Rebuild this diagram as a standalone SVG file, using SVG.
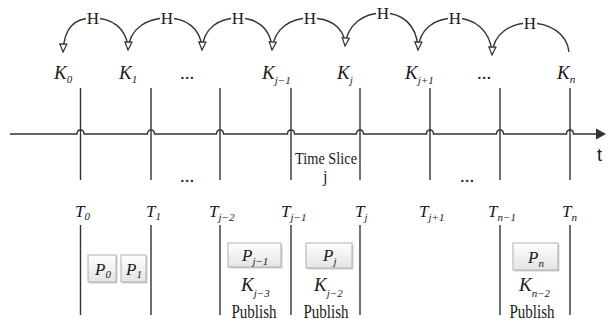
<svg xmlns="http://www.w3.org/2000/svg" width="608" height="324" viewBox="0 0 608 324">
<defs>
<marker id="oa" markerUnits="userSpaceOnUse" markerWidth="10" markerHeight="10" viewBox="0 0 10 10" refX="9" refY="5" orient="auto">
<path d="M1,1.5 L9,5 L1,8.5 Z" fill="#fff" stroke="#333" stroke-width="1.2"/>
</marker>
<linearGradient id="bg" x1="0" y1="0" x2="0" y2="1">
<stop offset="0" stop-color="#ffffff"/>
<stop offset="1" stop-color="#e4e4e4"/>
</linearGradient>
<style>
.ln{stroke:#333;stroke-width:1.4;fill:none}
.arc{stroke:#333;stroke-width:1.4;fill:none;marker-end:url(#oa)}
.it{font-family:"Liberation Serif","Times New Roman",serif;font-style:italic;fill:#1a1a1a}
.rm{font-family:"Liberation Serif","Times New Roman",serif;fill:#1a1a1a}
.k{font-size:19px}
.t{font-size:17px}
.p{font-size:17px}
.s{font-size:11px;font-style:italic}
.h{font-size:17px;text-anchor:middle}
.pub{font-size:18px;text-anchor:middle}
.box{fill:url(#bg);stroke:#b0b0b0;stroke-width:1}
.sh{fill:#d0d0d0}
</style>
</defs>
<rect width="608" height="324" fill="#fff"/>

<g id="connectors">
<path class="arc" d="M128,47 C126,28 112,18 93,18 C74,18 64,28 63,52"/>
<path class="arc" d="M202,47 C200,28 186,18 167,18 C148,18 129,28 128,50"/>
<path class="arc" d="M272,47 C270,28 257,18 238,18 C219,18 203,28 202,50"/>
<path class="arc" d="M345,43 C343,26 329,18 310,18 C291,18 274,28 272,50"/>
<path class="arc" d="M418,47 C416,24 402,13 383,13 C364,13 347,24 345,46"/>
<path class="arc" d="M492,52 C490,30 474,18 455,18 C436,18 419,28 418,50"/>
<path class="arc" d="M569,52 C567,33 549,23 530,23 C511,23 493,33 492,55"/>
<path class="ln" d="M10,134 H77 Q77,130 80.5,130 Q84,130 84,134 H147.5 Q147.5,130 151,130 Q154.5,130 154.5,134 H216.5 Q216.5,130 220,130 Q223.5,130 223.5,134 H287.5 Q287.5,130 291,130 Q294.5,130 294.5,134 H356.5 Q356.5,130 360,130 Q363.5,130 363.5,134 H426.5 Q426.5,130 430,130 Q433.5,130 433.5,134 H496.5 Q496.5,130 500,130 Q503.5,130 503.5,134 H566.5 Q566.5,130 570,130 Q573.5,130 573.5,134 H597"/>
<polygon points="596,128.5 606,134 596,139.5" fill="#333"/>
<path class="ln" d="M80.5,88 V180 M151,88 V180 M220,88 V180 M291,88 V180 M360,88 V180 M430,88 V180 M500,88 V180 M570,88 V180"/>
<path class="ln" d="M80.5,225 V315 M151,225 V315 M220,225 V315 M291,225 V315 M360,225 V315 M500,225 V315 M570,225 V315"/>
</g>

<g id="hash-labels">
<rect x="86" y="10" width="14" height="15" fill="#fff"/>
<rect x="160" y="10" width="14" height="15" fill="#fff"/>
<rect x="231" y="10" width="14" height="15" fill="#fff"/>
<rect x="303" y="10" width="14" height="15" fill="#fff"/>
<rect x="376" y="5" width="14" height="15" fill="#fff"/>
<rect x="448" y="10" width="14" height="15" fill="#fff"/>
<rect x="523" y="15" width="14" height="15" fill="#fff"/>
<text class="rm h" x="93" y="24">H</text>
<text class="rm h" x="167" y="24">H</text>
<text class="rm h" x="238" y="24">H</text>
<text class="rm h" x="310" y="24">H</text>
<text class="rm h" x="383" y="19">H</text>
<text class="rm h" x="455" y="24">H</text>
<text class="rm h" x="530" y="29">H</text>
</g>

<g id="keys">
<text class="it k" x="54" y="79">K<tspan class="s" dy="4">0</tspan></text>
<text class="it k" x="119" y="79">K<tspan class="s" dy="4">1</tspan></text>
<text class="rm k" x="180" y="79">...</text>
<text class="it k" x="262" y="79">K<tspan class="s" dy="5">j−1</tspan></text>
<text class="it k" x="337" y="79">K<tspan class="s" dy="5">j</tspan></text>
<text class="it k" x="405" y="79">K<tspan class="s" dy="5">j+1</tspan></text>
<text class="rm k" x="477" y="79">...</text>
<text class="it k" x="557" y="79">K<tspan class="s" dy="4">n</tspan></text>
</g>

<g id="axis-labels">
<text x="597" y="161" font-family="Liberation Sans,sans-serif" font-size="18" fill="#1a1a1a">t</text>
<text class="rm" x="295" y="164" font-size="16" textLength="62" lengthAdjust="spacingAndGlyphs">Time Slice</text>
<text class="rm" x="323" y="182" font-size="16">j</text>
<text class="rm k" x="180" y="182">...</text>
<text class="rm k" x="460" y="182">...</text>
</g>

<g id="time-labels">
<text class="it t" x="75" y="217">T<tspan class="s" dy="3">0</tspan></text>
<text class="it t" x="146" y="217">T<tspan class="s" dy="3">1</tspan></text>
<text class="it t" x="209" y="217">T<tspan class="s" dy="4">j−2</tspan></text>
<text class="it t" x="281" y="217">T<tspan class="s" dy="4">j−1</tspan></text>
<text class="it t" x="355" y="217">T<tspan class="s" dy="4">j</tspan></text>
<text class="it t" x="419" y="217">T<tspan class="s" dy="4">j+1</tspan></text>
<text class="it t" x="488" y="217">T<tspan class="s" dy="4">n−1</tspan></text>
<text class="it t" x="562" y="217">T<tspan class="s" dy="4">n</tspan></text>
</g>

<g id="packet-p0">
<rect class="sh" x="89.5" y="256.5" width="28" height="27"/>
<rect class="box" x="88" y="255" width="28" height="27"/>
<text class="it p" x="95" y="275">P<tspan class="s" dy="3">0</tspan></text>
</g>
<g id="packet-p1">
<rect class="sh" x="122.5" y="256.5" width="25" height="27"/>
<rect class="box" x="121" y="255" width="25" height="27"/>
<text class="it p" x="126" y="275">P<tspan class="s" dy="3">1</tspan></text>
</g>
<g id="packet-pj-1">
<rect class="sh" x="229.5" y="244.5" width="53" height="24"/>
<rect class="box" x="228" y="243" width="53" height="24"/>
<text class="it p" x="242" y="261">P<tspan class="s" dy="4">j−1</tspan></text>
</g>
<g id="packet-pj">
<rect class="sh" x="307.5" y="244.5" width="46" height="25"/>
<rect class="box" x="306" y="243" width="46" height="25"/>
<text class="it p" x="323" y="261">P<tspan class="s" dy="4">j</tspan></text>
</g>
<g id="packet-pn">
<rect class="sh" x="514.5" y="244.5" width="45" height="27"/>
<rect class="box" x="513" y="243" width="45" height="27"/>
<text class="it p" x="528" y="263">P<tspan class="s" dy="4">n</tspan></text>
</g>

<g id="publish-j-3">
<text class="it k" x="241" y="291">K<tspan class="s" dy="6">j−3</tspan></text>
<text class="rm pub" x="254" y="318" textLength="45" lengthAdjust="spacingAndGlyphs">Publish</text>
</g>
<g id="publish-j-2">
<text class="it k" x="314" y="291">K<tspan class="s" dy="6">j−2</tspan></text>
<text class="rm pub" x="326" y="318" textLength="45" lengthAdjust="spacingAndGlyphs">Publish</text>
</g>
<g id="publish-n-2">
<text class="it k" x="519" y="291">K<tspan class="s" dy="6">n−2</tspan></text>
<text class="rm pub" x="532" y="318" textLength="45" lengthAdjust="spacingAndGlyphs">Publish</text>
</g>
</svg>
